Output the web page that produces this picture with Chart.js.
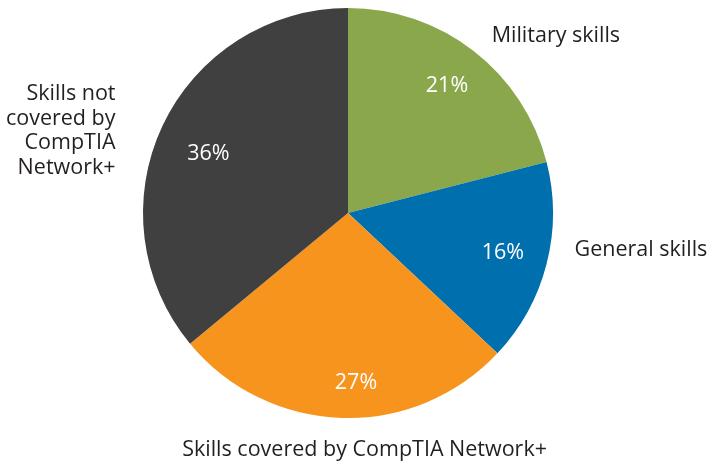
<!DOCTYPE html>
<html>
<head>
<meta charset="utf-8">
<script src="https://cdn.jsdelivr.net/npm/chart.js@4/dist/chart.umd.min.js"></script>
<style>
  html, body { margin: 0; padding: 0; background: #fff; }
  #wrap { width: 708px; height: 466px; }
</style>
</head>
<body>
<div id="wrap"><canvas id="skillsPie"></canvas></div>
<script>
// slice data, clockwise from 12 o'clock
const categories = ['Military skills', 'General skills', 'Skills covered by CompTIA Network+', 'Skills not covered by CompTIA Network+'];
const shares = [21, 16, 27, 36];
const colors = ['#8aa84b', '#006fad', '#f7941d', '#404040'];

// outer label lines (wrapped as in the original)
const labelLines = [
  ['Military skills'],
  ['General skills'],
  ['Skills covered by CompTIA Network+'],
  ['Skills not', 'covered by', 'CompTIA', 'Network+'],
];
// where each outer label sits relative to its slice midpoint on the rim
const labelPlace = [
  { align: 'left', dx: 18, dy: -15 },
  { align: 'left', dx: 28, dy: -14 },
  { align: 'center', dx: 23, dy: 32 },
  { align: 'right', dx: -47, dy: 5 },
];
// small nudges for the percentages inside the slices
const pctNudge = [[1, -1], [0, 0], [13, 10], [5, 9]];

const FONT = '"Open Sans", "Noto Sans", sans-serif';

const sliceLabels = {
  id: 'sliceLabels',
  afterDatasetsDraw(chart) {
    const ctx = chart.ctx;
    const meta = chart.getDatasetMeta(0);
    ctx.save();
    meta.data.forEach((arc, i) => {
      const { x, y, startAngle, endAngle, outerRadius } = arc.getProps(['x', 'y', 'startAngle', 'endAngle', 'outerRadius'], true);
      const mid = (startAngle + endAngle) / 2;

      // percentage inside the slice
      const r1 = outerRadius * 0.78;
      ctx.fillStyle = '#ffffff';
      ctx.font = '21.5px ' + FONT;
      ctx.textAlign = 'center';
      ctx.textBaseline = 'middle';
      ctx.fillText(shares[i] + '%', x + Math.cos(mid) * r1 + pctNudge[i][0], y + Math.sin(mid) * r1 + pctNudge[i][1]);

      // category name outside
      const p = labelPlace[i];
      const lines = labelLines[i];
      const lh = 24.5;
      const ax = x + Math.cos(mid) * outerRadius + p.dx;
      const ay = y + Math.sin(mid) * outerRadius + p.dy;
      ctx.fillStyle = '#231f20';
      ctx.textAlign = p.align;
      lines.forEach((t, k) => {
        ctx.fillText(t, ax, ay + (k - (lines.length - 1) / 2) * lh);
      });
    });
    ctx.restore();
  }
};

new Chart(document.getElementById('skillsPie'), {
  type: 'pie',
  data: {
    labels: categories,
    datasets: [{
      data: shares,
      backgroundColor: colors,
      borderWidth: 0,
    }],
  },
  options: {
    responsive: true,
    maintainAspectRatio: false,
    animation: false,
    layout: { padding: { left: 0, right: 12, top: 8, bottom: 48 } },
    plugins: {
      legend: { display: false },
      tooltip: { enabled: false },
    },
  },
  plugins: [sliceLabels],
});
</script>
</body>
</html>
